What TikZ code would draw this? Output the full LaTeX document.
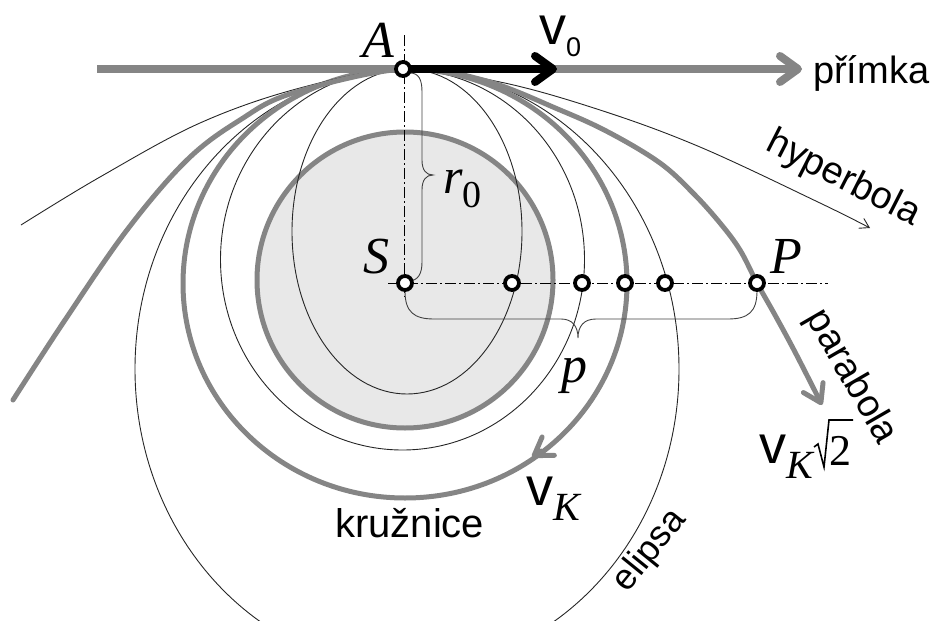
\documentclass[tikz,border=0pt]{standalone}
\usepackage{fontspec}
\setmainfont{Liberation Serif}
\setsansfont{Liberation Sans}
\usetikzlibrary{arrows.meta}
\definecolor{cg}{RGB}{133,133,133}
\definecolor{planetfill}{RGB}{232,232,232}
\newcommand{\myfs}[1]{\fontsize{#1}{#1}\selectfont}
\tikzset{
  thinc/.style={line width=0.9pt, draw=black!85},
  thickc/.style={line width=5pt, draw=cg, line cap=round},
  dot/.style={circle, draw=black, fill=white, line width=3.8pt, minimum size=14pt, inner sep=0pt},
  axisline/.style={line width=0.8pt, draw=black, dash pattern=on 11pt off 3pt on 2pt off 3pt},
  bracec/.style={line width=0.9pt, draw=black!75},
  lbl/.style={anchor=base west, inner sep=0pt},
  bigbarb/.style={-{Straight Barb[length=18pt,width=26pt,line cap=round,line join=round]}},
  midbarb/.style={-{Straight Barb[length=17pt,width=22pt,line cap=round,line join=round]}},
  smallbarb/.style={-{Straight Barb[length=9pt,width=11pt]}}
}
\begin{document}
\begin{tikzpicture}[x=1pt,y=-1pt]
\useasboundingbox (0,0) rectangle (945,621);
\begin{scope}
\clip (0,0) rectangle (945,621);
% planet
\draw[thickc, fill=planetfill] (405,280) circle[radius=148];
% ellipses
\draw[thinc] (407,369) ellipse[x radius=272, y radius=300];
\draw[thinc] (402.5,259.5) ellipse[x radius=182, y radius=190.5];
\draw[thinc] (407,231.5) ellipse[x radius=115, y radius=162.5];
% circle (kruznice)
\draw[thickc] (405,283.5) ellipse[x radius=222, y radius=214.5];
\draw[thickc, midbarb] (541,451) -- (532,457);
% hyperbola
\draw[thinc, smallbarb] plot[smooth, tension=0.6] coordinates {(21,225) (100,177) (200,123) (300,88) (403,69) (500,82) (600,110) (700,147) (820,203) (870,228)};
% parabola
\draw[thickc, midbarb] plot[smooth, tension=0.6] coordinates {(13,400) (65,320) (127,230) (187,160) (240,120) (293,93) (403,69) (483,80) (560,110) (610,133) (660,163) (693,193) (720,223) (740,250) (757,283) (775,315) (795,352) (822,405)};
\end{scope}
% primka
\draw[line width=8pt, draw=cg, bigbarb] (97,69) -- (802,69);
% axes
\draw[axisline] (388,283) -- (828,283);
\draw[axisline] (404,35) -- (404,297);
% v0
\draw[line width=8pt, draw=black, bigbarb] (403,69) -- (557,69);
% braces
\draw[bracec] (410,73) .. controls (419,73) and (422,80) .. (422,92) -- (422,160)
  .. controls (422,170) and (426,175) .. (433,175)
  .. controls (426,175) and (422,180) .. (422,190) -- (422,262)
  .. controls (422,274) and (418,280) .. (410,281);
\draw[bracec] (405,291) .. controls (405,312) and (414,319) .. (434,319) -- (561,319)
  .. controls (572,319) and (578,326) .. (578,338)
  .. controls (578,326) and (584,319) .. (596,319) -- (728,319)
  .. controls (748,319) and (757,312) .. (757,291);
% dots
\node[dot] (A) at (403,69) {};
\node[dot] (S) at (405,283) {};
\node[dot] (E1) at (512,283) {};
\node[dot] (E2) at (582,283) {};
\node[dot] (K) at (625,283) {};
\node[dot] (E3) at (665,283) {};
\node[dot] (P) at (757,283) {};
% labels
\node[lbl] (lA) at (362,57) {\myfs{52}\itshape A};
\node[lbl] (lS) at (363,273) {\myfs{52}\itshape S};
\node[lbl] (lP) at (770,273) {\myfs{52}\itshape P};
\node[lbl] (lr) at (443,193) {\myfs{50}\itshape r\raisebox{-14pt}{\upshape\myfs{38}0}};
\node[lbl] (lp) at (561,382) {\myfs{52}\itshape p};
\node[lbl] (lv0) at (539,44) {\myfs{54}\sffamily v\raisebox{-13pt}{\myfs{27}0}};
\node[lbl] (lprim) at (813,83) {\myfs{38}\sffamily přímka};
\node[lbl] (lkru) at (335,537) {\myfs{40}\sffamily kružnice};
\node[lbl] (lvk) at (526,505) {\myfs{54}\sffamily v\raisebox{-15pt}{\rmfamily\itshape\myfs{40}K}};
\node[lbl] (lvk2) at (759,463) {\myfs{54}\sffamily v\raisebox{-15pt}{\rmfamily\itshape\myfs{40}K}};
\node[lbl] (ltwo) at (829,465) {\myfs{44}2};
\draw[line width=1.6pt, line join=miter] (814,447) -- (818,444) -- (824,467) -- (829,420) -- (853,420);
\node[rotate=-27, inner sep=0pt] (lhyp) at (843,179) {\myfs{38}\sffamily hyperbola};
\node[rotate=-60, inner sep=0pt] (lpar) at (851,377) {\myfs{38}\sffamily parabola};
\node[rotate=51, inner sep=0pt] (lel) at (650,551) {\myfs{36}\sffamily elipsa};
\end{tikzpicture}
\end{document}
